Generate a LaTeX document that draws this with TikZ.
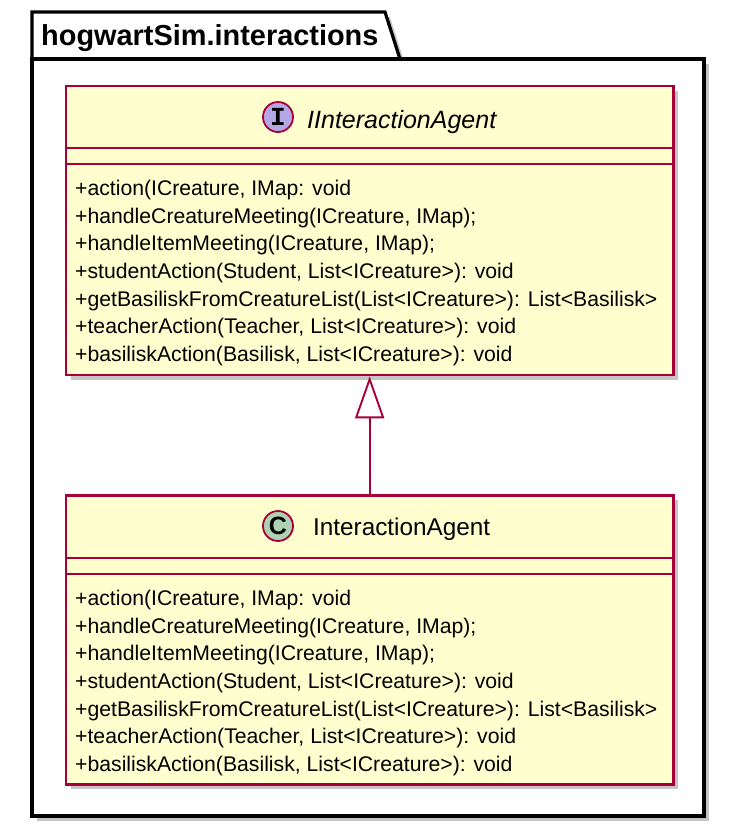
\documentclass[tikz,border=0pt]{standalone}
\usepackage{fontspec}
\setmainfont{Liberation Sans}
\setmonofont{Liberation Mono}
\usetikzlibrary{arrows.meta,shadows}
\definecolor{umlred}{HTML}{A80036}
\definecolor{umlfill}{HTML}{FEFECE}
\definecolor{ifacespot}{HTML}{B4A7E5}
\definecolor{classspot}{HTML}{ADD1B2}
% operations shared by the interface and the class
\newcommand{\agentops}{{+action(ICreature, IMap: void},
  {+handleCreatureMeeting(ICreature, IMap);},
  {+handleItemMeeting(ICreature, IMap);},
  {+studentAction(Student, List<ICreature>): void},
  {+getBasiliskFromCreatureList(List<ICreature>): List<Basilisk>},
  {+teacherAction(Teacher, List<ICreature>): void},
  {+basiliskAction(Basilisk, List<ICreature>): void}}

\begin{document}
\begin{tikzpicture}[x=1pt, y=-1pt,
    shade/.style={drop shadow={shadow xshift=5pt, shadow yshift=-5pt, fill=black!45}},
    pkgline/.style={draw=black, line width=3.2pt, fill=white, shade},
    umlbox/.style={rectangle, draw=umlred, line width=2.8pt, fill=umlfill, shade,
        anchor=north west, inner sep=0pt, minimum width=607.5pt, minimum height=289pt},
    divider/.style={draw=umlred, line width=2.8pt},
    spot/.style={circle, draw=umlred, line width=1.8pt, minimum size=30pt, inner sep=0pt},
    headname/.style={anchor=base west, inner sep=0pt, font=\fontsize{24.3}{28}\selectfont},
    optext/.style={anchor=base west, inner sep=0pt, font=\fontsize{21.2}{24}\selectfont},
    inherit/.style={-{Triangle[open, length=42pt, width=29pt]}, draw=umlred, line width=1.9pt}
]
    \useasboundingbox (0,0) rectangle (736,828);

    % package
    \path[pkgline] (32,59) -- (32,12) -- (385,12) -- (400,59) -- cycle;
    \path[pkgline] (32,59) rectangle (704,816);
    \node[anchor=base west, inner sep=0pt, font=\fontsize{28.9}{32}\selectfont\bfseries]
        (pkgname) at (41,45) {hogwartSim.interactions};

    % interface
    \node[umlbox] (iface) at (64.5,84.5) {};
    \draw[divider] (64.5,148) -- (672,148);
    \draw[divider] (64.5,164) -- (672,164);
    \node[spot, fill=ifacespot] (ispot) at (278,117) {\fontsize{26}{26}\selectfont\ttfamily\bfseries I};
    \node[headname, font=\fontsize{25}{28}\selectfont\itshape] (iname) at (307,128) {IInteractionAgent};
    \foreach \m [count=\i from 0] in \agentops {
        \node[optext] (iop\i) at (75,195.7+27.6*\i) {\m};
    }

    % class
    \node[umlbox] (cls) at (64.5,494) {};
    \draw[divider] (64.5,558) -- (672,558);
    \draw[divider] (64.5,574) -- (672,574);
    \node[spot, fill=classspot] (cspot) at (278,526) {\fontsize{25}{25}\selectfont\bfseries C};
    \node[headname] (cname) at (313,535) {InteractionAgent};
    \foreach \m [count=\i from 0] in \agentops {
        \node[optext] (cop\i) at (75,605.7+27.6*\i) {\m};
    }

    \draw[inherit] (cls.north) -- (iface.south);
\end{tikzpicture}
\end{document}
